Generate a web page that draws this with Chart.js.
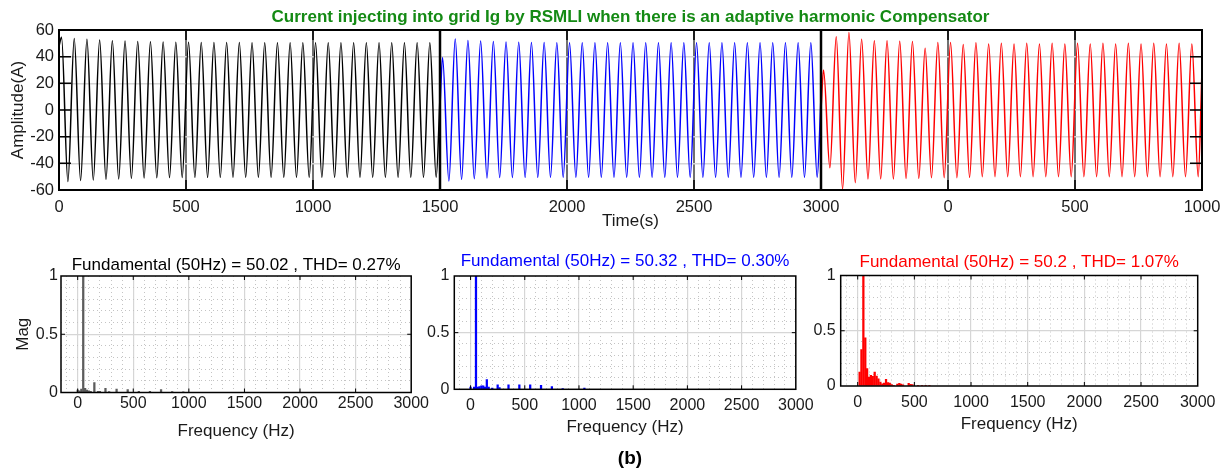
<!DOCTYPE html>
<html>
<head>
<meta charset="utf-8">
<script src="https://cdn.jsdelivr.net/npm/chart.js@4.4.1/dist/chart.umd.min.js"></script>
<style>
  body { margin: 0; background: #fff; width: 1230px; height: 473px; position: relative; overflow: hidden; font-family: 'Liberation Sans', Arial, sans-serif; }
  canvas { position: absolute; }
  #tag { position: absolute; left: 580px; width: 100px; top: 447px; text-align: center; font-weight: bold; font-size: 19px; line-height: 22px; }
</style>
</head>
<body>
<canvas id="wave" width="1230" height="235" style="left:0;top:0"></canvas>
<canvas id="fft1" width="430" height="200" style="left:0;top:245px"></canvas>
<canvas id="fft2" width="400" height="200" style="left:420px;top:245px"></canvas>
<canvas id="fft3" width="425" height="200" style="left:805px;top:245px"></canvas>
<div id="tag">(b)</div>
<script>
Chart.defaults.font.family = "'Liberation Sans', Arial, sans-serif"
Chart.defaults.color = '#1a1a1a'
Chart.defaults.animation = false
Chart.defaults.plugins.legend.display = false
Chart.defaults.plugins.tooltip.enabled = false

// time plot: one peak and one trough read per cycle (A)
const period = 50
const peakAt = 10
const troughAt = 35
const segStarts = [0, 1500, 3000]
const segColors = ['#000000', '#0000ff', '#ff0000']
const segFirst = [48, 2, 0]
const segLast = [10, 10, 30]
const timeTickLabels = ['0', '500', '1000', '1500', '2000', '2500', '3000', '0', '500', '1000']

const blackPeaks = [54.5, 53.7, 53.0, 52.5, 52.0, 51.7, 51.3, 51.2, 51.0, 50.9, 50.8, 50.7, 50.7, 50.6, 50.6,
  50.5, 50.5, 50.5, 50.5, 50.5, 50.5, 50.5, 50.5, 50.5, 50.5, 50.5, 50.5, 50.5, 50.5, 50.5]
const blackTroughs = [-53.7, -52.8, -52.5, -52.0, -51.7, -51.3, -51.0, -50.8, -50.7, -50.6, -50.5, -50.5, -50.5, -50.5, -50.5,
  -50.5, -50.5, -50.5, -50.5, -50.5, -50.5, -50.5, -50.5, -50.5, -50.5, -50.5, -50.5, -50.5, -50.5, -50.5]
const bluePeaks = [39.3, 53.2, 52.2, 51.7, 51.3, 51.0, 50.8, 50.7, 50.6, 50.5, 50.5, 50.5, 50.5, 50.5, 50.5,
  50.5, 50.5, 50.5, 50.5, 50.5, 50.5, 50.5, 50.5, 50.5, 50.5, 50.5, 50.5, 50.5, 50.5, 50.5]
const blueTroughs = [-53.3, -52.0, -51.5, -51.0, -50.7, -50.6, -50.5, -50.5, -50.5, -50.5, -50.5, -50.5, -50.5, -50.5, -50.5,
  -50.5, -50.5, -50.5, -50.5, -50.5, -50.5, -50.5, -50.5, -50.5, -50.5, -50.5, -50.5, -50.5, -50.5, -50.5]
const redPeaks = [30, 55, 58.2, 53, 52, 52, 51.5, 51.3, 46.3, 50.7, 50.7, 49.2, 50.5, 49.5, 50, 49.5, 50, 49.5,
  50, 49.5, 50, 49.5, 50, 49.5, 50, 49.5, 50, 49.5, 50, 49.5]
const redTroughs = [-43.3, -59.3, -54.5, -51.7, -51.7, -51.7, -51.3, -51.3, -50.8, -50.8, -50.8, -50.5, -50, -50, -50,
  -50, -50, -50, -50, -50, -50, -50, -50, -50, -50, -50, -50, -50, -50, -50]

// spectra (Hz / normalised magnitude)
const freqTicks = [0, 500, 1000, 1500, 2000, 2500, 3000]
const magTicks = [0, 0.5, 1]
const fft1Freq = [0, 17, 33, 50, 67, 83, 100, 117, 150, 183, 200, 250, 283, 350, 450, 550, 650, 750, 850, 950]
const fft1Mag = [0.02, 0.015, 0.03, 1, 0.035, 0.02, 0.015, 0.01, 0.085, 0.01, 0.01, 0.035, 0.008, 0.03, 0.025, 0.01, 0.01, 0.025, 0.008, 0.005]
const fft2Freq = [0, 33, 50, 67, 83, 100, 117, 133, 150, 167, 200, 250, 267, 350, 450, 550, 650, 750, 850, 1050]
const fft2Mag = [0.02, 0.02, 1, 0.02, 0.025, 0.03, 0.03, 0.02, 0.085, 0.02, 0.01, 0.04, 0.015, 0.04, 0.04, 0.04, 0.035, 0.025, 0.005, 0.01]
const fft3Freq = [17, 33, 50, 67, 83, 100, 117, 133, 150, 167, 183, 200, 217, 233, 250, 267, 283, 300, 317, 350,
  367, 383, 400, 450, 467, 483, 533, 567, 600, 633]
const fft3Mag = [0.127, 0.33, 1, 0.435, 0.157, 0.08, 0.097, 0.088, 0.127, 0.09, 0.066, 0.036, 0.02, 0.027, 0.06, 0.03,
  0.027, 0.012, 0.006, 0.018, 0.024, 0.018, 0.01, 0.024, 0.015, 0.012, 0.006, 0.006, 0.005, 0.005]

const clear = 'rgba(0,0,0,0)'

// MATLAB style box: inward ticks, frame, segment edges
const axesBox = {
  id: 'axesBox',
  afterDatasetsDraw(chart, args, o) {
    const { ctx, chartArea: a, scales: { x, y } } = chart
    ctx.save()
    ctx.strokeStyle = '#000'
    ;(o.edges || []).forEach(v => {
      const px = x.getPixelForValue(v)
      ctx.lineWidth = 2.5
      ctx.beginPath(); ctx.moveTo(px, a.top); ctx.lineTo(px, a.bottom); ctx.stroke()
    })
    ctx.lineWidth = o.tickWidth
    ctx.beginPath()
    x.ticks.forEach(t => {
      const px = x.getPixelForValue(t.value)
      if (px < a.left + 2 || px > a.right - 2) return
      ctx.moveTo(px, a.bottom); ctx.lineTo(px, a.bottom - o.xLen)
      ctx.moveTo(px, a.top); ctx.lineTo(px, a.top + o.xLen)
    })
    y.ticks.forEach(t => {
      const py = y.getPixelForValue(t.value)
      if (py < a.top + 2 || py > a.bottom - 2) return
      ctx.moveTo(a.left, py); ctx.lineTo(a.left + o.yLen, py)
      ctx.moveTo(a.right, py); ctx.lineTo(a.right - o.yLen, py)
    })
    ctx.stroke()
    ctx.lineWidth = o.frame
    ctx.strokeRect(a.left, a.top, a.width, a.height)
    ctx.restore()
  }
}

const buildWave = (i, peaks, troughs) => {
  const t0 = segStarts[i]
  const pts = [{ x: t0, y: segFirst[i] }]
  peaks.forEach((p, k) => {
    pts.push({ x: t0 + peakAt + k * period, y: p })
    pts.push({ x: t0 + troughAt + k * period, y: troughs[k] })
  })
  pts.push({ x: t0 + 1500, y: segLast[i] })
  return pts
}

const waves = [[blackPeaks, blackTroughs], [bluePeaks, blueTroughs], [redPeaks, redTroughs]]

new Chart('wave', {
  type: 'line',
  data: {
    datasets: waves.map(([p, t], i) => ({ data: buildWave(i, p, t), borderColor: segColors[i] }))
  },
  options: {
    responsive: false,
    layout: { autoPadding: false, padding: { right: 28 } },
    elements: { point: { radius: 0 }, line: { borderWidth: 1.5, cubicInterpolationMode: 'monotone' } },
    scales: {
      x: {
        type: 'linear', min: 0, max: 4500,
        ticks: { stepSize: 500, autoSkip: false, maxRotation: 0, padding: 8, font: { size: 16.5 }, callback: (v, i) => timeTickLabels[i] },
        grid: {
          drawTicks: false, lineWidth: 2,
          color: c => (c.tick.value % 1500 === 0) ? clear : '#707070'
        },
        border: { display: false },
        title: { display: true, text: 'Time(s)', font: { size: 17 }, padding: { top: 0, bottom: 3.8 } },
        afterFit: s => { s.height = 45 }
      },
      y: {
        min: -60, max: 60,
        ticks: { stepSize: 20, padding: 5, font: { size: 16.5 } },
        grid: { drawTicks: false, lineWidth: 1.5, color: c => Math.abs(c.tick.value) === 60 ? clear : '#d4d4d4' },
        border: { display: false },
        title: { display: true, text: 'Amplitude(A)', font: { size: 17 }, padding: { top: 7.8, bottom: 0 } },
        afterFit: s => { s.width = 59 }
      }
    },
    plugins: {
      title: {
        display: true, fullSize: false,
        text: 'Current injecting into grid Ig by RSMLI when there is an adaptive harmonic Compensator',
        color: '#148a14', font: { size: 17, weight: 'bold' }, padding: { top: 7.3, bottom: 2.3 }
      },
      axesBox: { tickWidth: 1.5, xLen: 10, yLen: 12, frame: 2, edges: segStarts.slice(1) }
    }
  },
  plugins: [axesBox]
})

const minorX = c => { const v = c.tick.value; return (v % 100 === 0 && v % 500 !== 0) ? '#c4c4c4' : clear }
const minorY = c => { const k = Math.round(c.tick.value * 10); return (k % 5 !== 0 && k > 0 && k < 10) ? '#c4c4c4' : clear }

const fftChart = (id, freq, mag, color, o) => new Chart(id, {
  type: 'bar',
  data: {
    datasets: [{ data: freq.map((f, i) => ({ x: f, y: mag[i] })), backgroundColor: color, barThickness: 1.6, grouped: false }]
  },
  options: {
    responsive: false,
    layout: { autoPadding: false, padding: { right: o.right } },
    scales: {
      x: {
        type: 'linear', min: -150, max: 3000, offset: false,
        afterBuildTicks: s => { s.ticks = freqTicks.map(v => ({ value: v })) },
        ticks: { autoSkip: false, maxRotation: 0, padding: o.xPad, font: { size: 16 }, callback: v => String(v) },
        grid: { offset: false, drawTicks: false, lineWidth: 1.2, color: c => (c.tick.value === 3000) ? clear : '#d6d6d6' },
        border: { display: false },
        title: { display: true, text: 'Frequency (Hz)', font: { size: 17 }, padding: { top: 0, bottom: o.xTitle } },
        afterFit: s => { s.height = o.xH }
      },
      xm: {
        type: 'linear', position: 'bottom', min: -150, max: 3000, offset: false,
        ticks: { display: false, stepSize: 100, includeBounds: false },
        grid: { offset: false, drawTicks: false, lineWidth: 1, color: minorX },
        border: { display: false, dash: [1, 3] },
        afterFit: s => { s.height = 0 }
      },
      y: {
        min: 0, max: 1,
        afterBuildTicks: s => { s.ticks = magTicks.map(v => ({ value: v })) },
        ticks: { padding: o.yPad, font: { size: 16 }, callback: v => String(v) },
        grid: { drawTicks: false, lineWidth: 1.2, color: c => c.tick.value === 0.5 ? '#d6d6d6' : clear },
        border: { display: false },
        title: { display: !!o.yTitle, text: o.yTitle || '', font: { size: 17 }, padding: { top: 13.1, bottom: 0 } },
        afterFit: s => { s.width = o.yW }
      },
      ym: {
        type: 'linear', position: 'left', min: 0, max: 1,
        ticks: { display: false, stepSize: 0.1 },
        grid: { drawTicks: false, lineWidth: 1, color: minorY },
        border: { display: false, dash: [1, 3] },
        afterFit: s => { s.width = 0 }
      }
    },
    plugins: {
      title: {
        display: true, fullSize: false, text: o.title, color: o.titleColor,
        font: { size: 17, weight: 'normal' }, padding: { top: o.tTop, bottom: o.tBot }
      },
      axesBox: { tickWidth: 1, xLen: 4, yLen: 4, frame: 1.5 }
    }
  },
  plugins: [axesBox]
})

fftChart('fft1', fft1Freq, fft1Mag, '#5c5c5c', {
  title: 'Fundamental (50Hz) = 50.02 , THD= 0.27%', titleColor: '#000', yTitle: 'Mag',
  right: 15, yW: 61, xH: 52.5, xPad: 1, xTitle: 3.8, yPad: 3, tTop: 9.8, tBot: 0.8
})
fftChart('fft2', fft2Freq, fft2Mag, '#0000ff', {
  title: 'Fundamental (50Hz) = 50.32 , THD= 0.30%', titleColor: '#0000ff',
  right: 15.7, yW: 34.3, xH: 55.7, xPad: 6.4, xTitle: 7.3, yPad: 5, tTop: 6.3, tBot: 4.3
})
fftChart('fft3', fft3Freq, fft3Mag, '#ff0000', {
  title: 'Fundamental (50Hz) = 50.2 , THD= 1.07%', titleColor: '#ff0000',
  right: 32.3, yW: 35.7, xH: 59, xPad: 7.4, xTitle: 10.8, yPad: 5, tTop: 7.3, tBot: 2.8
})
</script>
</body>
</html>
